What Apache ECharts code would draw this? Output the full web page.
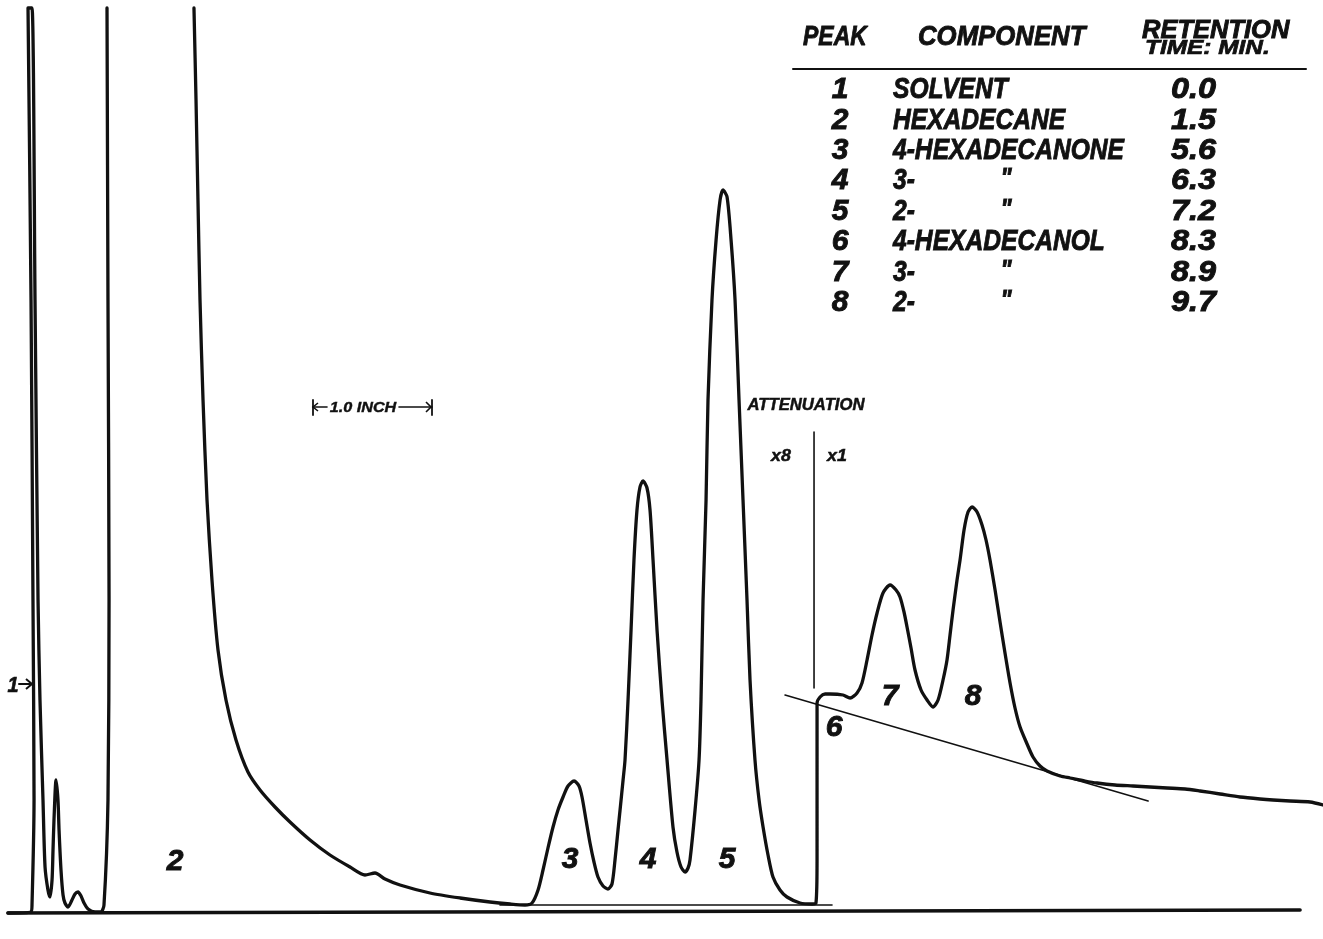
<!DOCTYPE html>
<html>
<head>
<meta charset="utf-8">
<title>Gas chromatogram of hexadecanones and hexadecanols</title>
<script src="https://cdn.jsdelivr.net/npm/echarts@6/dist/echarts.min.js"></script>
<style>
  html, body { margin: 0; padding: 0; background: #ffffff; }
  #chart { width: 1323px; height: 939px; }
</style>
</head>
<body>
<div id="chart"></div>
<script>
// Retention time (min) and pen deflection (chart divisions) of the recorder trace.
// Solvent peak, small early peaks and the leading edge of the off-scale hexadecane peak.
const solventTime = [-0.218, 0.019, 0.029, 0.050, 0.039, 0.019, -0.012, 0.029, 0.060, 0.091, 0.111, 0.142, 0.163, 0.193, 0.214, 0.235, 0.245, 0.255, 0.276, 0.296, 0.307, 0.327, 0.348, 0.368, 0.399, 0.440, 0.471, 0.502, 0.533, 0.564, 0.605, 0.677, 0.738, 0.769, 0.810, 0.821, 0.810, 0.800];
const solventResp = [-0.2, -0.1, 0.6, 11.1, 31.1, 61.1, 90.3, 90.3, 61.1, 31.1, 21.1, 11.1, 4.4, 2.1, 1.4, 3.1, 6.1, 9.1, 13.1, 11.1, 8.1, 4.1, 1.6, 0.8, 0.4, 1.1, 1.7, 1.9, 1.5, 0.8, 0.2, -0.1, -0.1, 0.6, 11.1, 31.1, 61.1, 90.3];

// Trailing edge of the hexadecane peak (2).
const hexadecaneTime = [1.694, 1.715, 1.735, 1.756, 1.787, 1.828, 1.879, 1.941, 2.023, 2.126, 2.249, 2.373, 2.527, 2.681, 2.887, 3.092, 3.298, 3.452, 3.555, 3.658, 3.812, 4.120, 4.429, 4.737, 4.943];
const hexadecaneResp = [90.3, 81.1, 71.1, 61.1, 51.1, 41.1, 33.1, 26.1, 21.1, 17.1, 13.9, 12.1, 10.4, 8.9, 7.1, 5.6, 4.4, 3.6, 3.8, 3.2, 2.6, 1.8, 1.3, 0.9, 0.7];

// Hexadecanones (peaks 3, 4, 5) recorded at attenuation x8.
const ketoneTime = [5.097, 5.169, 5.231, 5.282, 5.333, 5.385, 5.436, 5.488, 5.539, 5.601, 5.652, 5.683, 5.724, 5.765, 5.806, 5.847, 5.899, 5.950, 5.991, 6.022, 6.053, 6.074, 6.105, 6.125, 6.156, 6.187, 6.217, 6.248, 6.279, 6.310, 6.351, 6.382, 6.413, 6.454, 6.505, 6.557, 6.618, 6.659, 6.701, 6.742, 6.773, 6.793, 6.845, 6.886, 6.906, 6.927, 6.958, 6.978, 7.019, 7.061, 7.102, 7.132, 7.174, 7.215, 7.256, 7.297, 7.338, 7.379, 7.410, 7.461, 7.503, 7.544, 7.595, 7.646, 7.718, 7.790, 7.924, 8.047, 8.088];
const ketoneResp = [0.6, 0.8, 2.1, 4.1, 6.3, 8.4, 10.1, 11.4, 12.5, 13.0, 12.5, 11.4, 9.1, 6.8, 4.9, 3.4, 2.5, 2.2, 2.7, 5.1, 8.1, 10.1, 13.1, 15.1, 21.1, 28.1, 35.1, 40.1, 42.4, 43.0, 42.3, 40.1, 35.1, 28.1, 21.1, 15.1, 8.4, 5.9, 4.4, 3.9, 4.3, 5.1, 10.1, 15.1, 21.1, 31.1, 41.1, 51.1, 61.1, 67.1, 71.1, 72.1, 71.4, 67.1, 61.1, 51.1, 41.1, 31.1, 23.1, 15.1, 11.1, 8.4, 5.6, 3.4, 2.1, 1.4, 0.8, 0.7, 0.8];

// Hexadecanols (peaks 6, 7, 8) recorded at attenuation x1.
const alcoholTime = [8.099, 8.099, 8.099, 8.130, 8.181, 8.232, 8.366, 8.438, 8.510, 8.561, 8.613, 8.664, 8.716, 8.777, 8.849, 8.911, 8.952, 8.993, 9.024, 9.065, 9.106, 9.168, 9.230, 9.291, 9.343, 9.394, 9.435, 9.466, 9.497, 9.538, 9.569, 9.610, 9.651, 9.692, 9.744, 9.795, 9.836, 9.877, 9.929, 9.980, 10.031, 10.083, 10.134, 10.186, 10.258, 10.319, 10.391, 10.463, 10.597, 10.700, 10.854, 10.977, 11.162, 11.347, 11.522, 11.697, 11.882, 12.036, 12.242, 12.447, 12.653, 12.786, 12.961, 13.167, 13.300];
const alcoholResp = [5.1, 13.1, 20.8, 21.4, 21.7, 21.7, 21.6, 21.3, 21.8, 22.8, 25.1, 27.6, 29.8, 31.8, 32.6, 32.1, 31.4, 29.9, 28.4, 26.3, 24.1, 22.1, 21.1, 20.4, 21.1, 23.1, 25.1, 27.6, 30.1, 33.1, 35.1, 38.1, 39.9, 40.4, 39.9, 38.6, 37.1, 35.1, 32.1, 28.9, 25.8, 22.8, 20.3, 18.4, 16.7, 15.4, 14.5, 14.0, 13.5, 13.3, 13.0, 12.8, 12.6, 12.5, 12.4, 12.3, 12.2, 12.0, 11.7, 11.4, 11.2, 11.1, 11.0, 10.9, 10.6];

// Reference lines ruled on the chart paper: [time, deflection] end points.
const chartZeroLine = [[-0.218, -0.2], [13.064, 0.1]];
const ketoneBaseline = [[4.840, 0.6], [8.253, 0.6]];
const alcoholBaseline = [[7.770, 21.6], [11.502, 11.0]];
const attenuationMark = [[8.068, 47.9], [8.068, 22.3]];

// Peak table.
const peakNumbers = ['1', '2', '3', '4', '5', '6', '7', '8'];
const componentNames = ['SOLVENT', 'HEXADECANE', '4-HEXADECANONE', '3-', '2-', '4-HEXADECANOL', '3-', '2-'];
const dittoMarks = ['', '', '', '"', '"', '', '"', '"'];
const retentionTimes = ['0.0', '1.5', '5.6', '6.3', '7.2', '8.3', '8.9', '9.7'];

const zip = (xs, ys) => xs.map((x, i) => [x, ys[i]]);

const INK = '#111111';
const FONT = '"Liberation Sans", "DejaVu Sans", sans-serif';

function label(text, x, y, size, extra) {
  extra = extra || {};
  return {
    type: 'text',
    x: x, y: y,
    scaleX: extra.sx != null ? extra.sx : 0.9,
    silent: true,
    style: {
      text: text,
      font: 'italic bold ' + size + 'px ' + FONT,
      fill: INK,
      stroke: INK,
      lineWidth: extra.lw != null ? extra.lw : 0.9,
      align: extra.align || 'center',
      verticalAlign: 'middle'
    }
  };
}

function segment(x1, y1, x2, y2, w) {
  return {
    type: 'line', silent: true,
    shape: { x1: x1, y1: y1, x2: x2, y2: y2 },
    style: { stroke: INK, lineWidth: w || 1.6, lineCap: 'round' }
  };
}

const graphics = [];
// table header
graphics.push(label('PEAK', 803, 37, 28, { align: 'left', sx: 0.82 }));
graphics.push(label('COMPONENT', 918, 37, 28, { align: 'left', sx: 0.92 }));
graphics.push(label('RETENTION', 1142, 31, 25, { align: 'left', sx: 1.02 }));
graphics.push(label('TIME: MIN.', 1145, 48, 20, { align: 'left', sx: 1.22, lw: 0.7 }));
graphics.push(segment(793, 69, 1306, 69, 2));
// table rows
const rowTop = 90, rowStep = 30.4;
peakNumbers.forEach((p, i) => {
  const y = rowTop + i * rowStep;
  graphics.push(label(p, 840, y, 30, { align: 'center', sx: 1.0 }));
  graphics.push(label(componentNames[i], 893, y, 30, { align: 'left', sx: 0.82 }));
  if (dittoMarks[i]) graphics.push(label(dittoMarks[i], 1006, y - 2, 26, { align: 'center' }));
  graphics.push(label(retentionTimes[i], 1216, y, 30, { align: 'right', sx: 1.08 }));
});

// peak numbers on the trace
graphics.push(label('1', 13, 686, 22, { sx: 0.9, lw: 0.7 }));
graphics.push(segment(19, 684, 32, 684, 2));
graphics.push({
  type: 'polyline', silent: true,
  shape: { points: [[26, 679], [32, 684], [26, 689]] },
  style: { stroke: INK, lineWidth: 2, fill: null, lineJoin: 'round' }
});
graphics.push(label('2', 175, 862, 30, { sx: 1.0 }));
graphics.push(label('3', 570, 860, 30, { sx: 1.0 }));
graphics.push(label('4', 648, 860, 30, { sx: 1.0 }));
graphics.push(label('5', 727, 860, 30, { sx: 1.0 }));
graphics.push(label('6', 834, 728, 30, { sx: 1.0 }));
graphics.push(label('7', 890, 697, 30, { sx: 1.0 }));
graphics.push(label('8', 973, 697, 30, { sx: 1.0 }));

// attenuation change
graphics.push(label('ATTENUATION', 806, 405, 17, { sx: 0.98, lw: 0.5 }));
graphics.push(label('x8', 781, 456, 17, { sx: 1.05, lw: 0.5 }));
graphics.push(label('x1', 837, 456, 17, { sx: 1.05, lw: 0.5 }));

// one-inch chart scale bar
graphics.push(label('1.0 INCH', 363, 408, 15, { sx: 1.08, lw: 0.4 }));
graphics.push(segment(313, 400, 313, 415, 1.8));
graphics.push(segment(313, 407, 327, 407, 1.6));
graphics.push({
  type: 'polyline', silent: true,
  shape: { points: [[318, 403], [313, 407], [318, 411]] },
  style: { stroke: INK, lineWidth: 1.6, fill: null }
});
graphics.push(segment(432, 400, 432, 415, 1.8));
graphics.push(segment(399, 407, 432, 407, 1.6));
graphics.push({
  type: 'polyline', silent: true,
  shape: { points: [[426, 402], [431, 407], [426, 412]] },
  style: { stroke: INK, lineWidth: 1.6, fill: null }
});

const traceStyle = { color: INK, width: 3.3, cap: 'round', join: 'round' };
const thinStyle = { color: INK, width: 1.6, cap: 'round' };

const chart = echarts.init(document.getElementById('chart'), null, { renderer: 'canvas' });
chart.setOption({
  backgroundColor: '#ffffff',
  animation: false,
  grid: { left: 0, right: 0, top: 1, bottom: 28 },
  xAxis: { type: 'value', min: -0.3, max: 13.3, show: false },
  yAxis: { type: 'value', min: 0, max: 91, show: false },
  series: [
    {
      name: 'Solvent', type: 'line', data: zip(solventTime, solventResp),
      showSymbol: false, smooth: 0.25, clip: false, lineStyle: traceStyle
    },
    {
      name: 'Sample', type: 'line',
      data: zip(hexadecaneTime, hexadecaneResp)
        .concat(zip(ketoneTime, ketoneResp))
        .concat(zip(alcoholTime, alcoholResp)),
      showSymbol: false, smooth: 0.25, clip: false, lineStyle: traceStyle
    },
    {
      name: 'Zero line', type: 'line', data: chartZeroLine,
      showSymbol: false, clip: false,
      lineStyle: { color: INK, width: 3.6, cap: 'round' }
    },
    {
      name: 'Ketone baseline', type: 'line', data: ketoneBaseline,
      showSymbol: false, clip: false, lineStyle: thinStyle
    },
    {
      name: 'Alcohol baseline', type: 'line', data: alcoholBaseline,
      showSymbol: false, clip: false, lineStyle: thinStyle
    },
    {
      name: 'Attenuation change', type: 'line', data: attenuationMark,
      showSymbol: false, clip: false, lineStyle: thinStyle
    }
  ],
  graphic: { elements: graphics }
});
</script>
</body>
</html>
